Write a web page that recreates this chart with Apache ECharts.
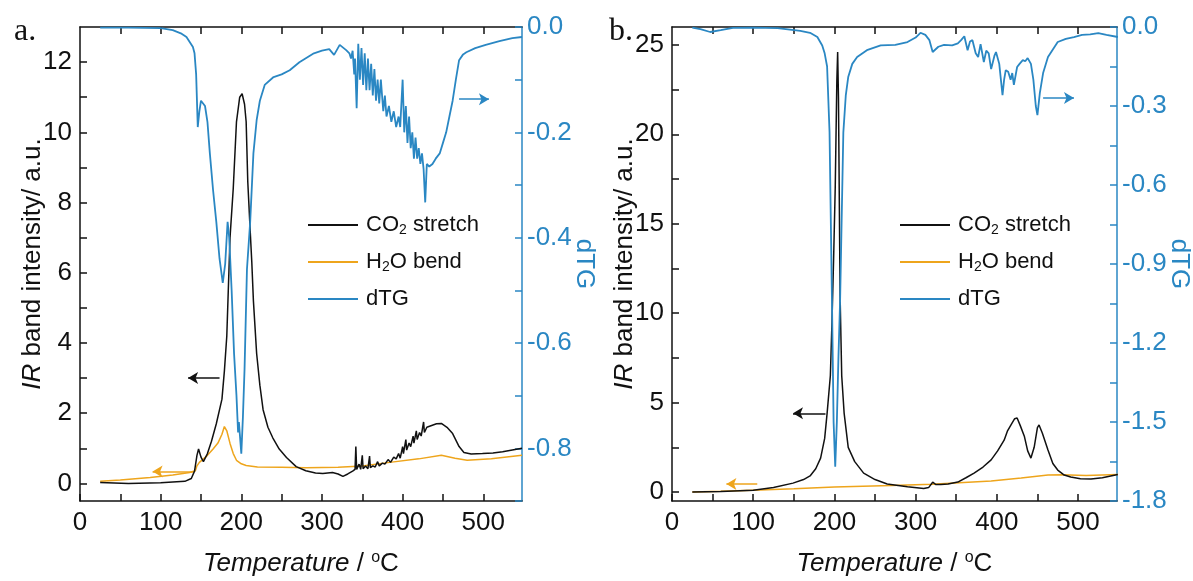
<!DOCTYPE html>
<html>
<head>
<meta charset="utf-8">
<script src="https://cdn.jsdelivr.net/npm/echarts@6.0.0/dist/echarts.min.js"></script>
<style>
  html, body { margin: 0; padding: 0; background: #fff; }
  #chart { width: 1193px; height: 581px; }
</style>
</head>
<body>
<div id="chart"></div>
<script>
// ---- panel a: [temperature, value] ----
const co2A = [[25,0.03],[60,0.0],[100,0.02],[130,0.06],[138,0.14],[142,0.35],[145,0.8],[147,0.98],[150,0.75],[153,0.62],[158,0.85],[163,1.2],[169,1.7],[176,2.4],[179,3.2],[182,4.2],[186,7.0],[190,8.4],[194,10.3],[198,11.0],[201,11.1],[204,10.8],[206,10.3],[208,8.6],[211,7.2],[213,6.3],[215,5.2],[219,3.7],[223,2.8],[227,2.1],[233,1.6],[239,1.3],[247,0.98],[256,0.74],[268,0.48],[280,0.36],[292,0.3],[301,0.28],[313,0.31],[320,0.27],[326,0.2],[332,0.27],[338,0.35],[341,0.4],[342,1.05],[343,0.4],[346,0.55],[348,0.4],[350,0.8],[351,0.42],[354,0.5],[357,0.42],[359,0.78],[360,0.45],[363,0.5],[366,0.47],[369,0.62],[371,0.5],[375,0.58],[378,0.55],[382,0.68],[385,0.6],[389,0.75],[392,0.7],[395,0.85],[397,0.72],[400,1.05],[401,0.85],[404,1.25],[405,0.95],[408,1.15],[410,1.05],[413,1.35],[414,1.15],[417,1.5],[418,1.25],[421,1.45],[423,1.35],[426,1.75],[427,1.45],[430,1.6],[436,1.65],[442,1.7],[448,1.71],[455,1.6],[462,1.42],[470,1.05],[476,0.88],[485,0.84],[499,0.85],[512,0.87],[524,0.9],[536,0.95],[548,1.0]];
const h2oA = [[25,0.06],[50,0.1],[87,0.17],[115,0.24],[136,0.31],[143,0.36],[145,0.5],[148,0.6],[152,0.68],[158,0.8],[165,0.98],[171,1.15],[176,1.4],[179,1.62],[182,1.5],[186,1.14],[190,0.85],[194,0.66],[200,0.56],[206,0.51],[220,0.47],[250,0.46],[280,0.45],[320,0.46],[350,0.5],[384,0.6],[420,0.7],[448,0.8],[465,0.72],[480,0.66],[510,0.7],[548,0.8]];
const dtgA = [[25,-0.001],[60,-0.001],[100,-0.002],[115,-0.006],[125,-0.012],[132,-0.019],[140,-0.038],[142,-0.05],[144,-0.09],[146,-0.19],[148,-0.16],[150,-0.14],[152,-0.137],[155,-0.15],[158,-0.18],[161,-0.24],[165,-0.31],[169,-0.37],[173,-0.44],[177,-0.486],[180,-0.45],[183,-0.37],[185,-0.4],[188,-0.5],[191,-0.62],[194,-0.7],[196,-0.77],[197,-0.75],[200,-0.81],[202,-0.74],[204,-0.65],[207,-0.46],[211,-0.37],[215,-0.24],[219,-0.177],[223,-0.14],[229,-0.11],[240,-0.095],[250,-0.09],[260,-0.082],[272,-0.067],[290,-0.05],[300,-0.045],[309,-0.042],[315,-0.053],[322,-0.034],[330,-0.044],[334,-0.05],[336,-0.06],[338,-0.045],[340,-0.09],[341,-0.06],[343,-0.154],[345,-0.032],[347,-0.1],[349,-0.04],[351,-0.11],[353,-0.05],[355,-0.12],[357,-0.06],[359,-0.12],[361,-0.07],[363,-0.13],[365,-0.08],[367,-0.14],[369,-0.1],[371,-0.145],[373,-0.1],[376,-0.16],[378,-0.13],[380,-0.17],[383,-0.15],[386,-0.18],[389,-0.16],[392,-0.19],[395,-0.17],[397,-0.19],[400,-0.1],[402,-0.2],[404,-0.15],[406,-0.22],[408,-0.17],[410,-0.23],[412,-0.2],[414,-0.25],[416,-0.21],[418,-0.25],[420,-0.23],[422,-0.26],[424,-0.24],[426,-0.27],[428,-0.333],[430,-0.26],[433,-0.265],[437,-0.26],[441,-0.25],[446,-0.24],[450,-0.22],[454,-0.2],[458,-0.17],[462,-0.14],[466,-0.1],[470,-0.063],[475,-0.052],[479,-0.048],[490,-0.04],[503,-0.034],[520,-0.027],[536,-0.021],[548,-0.019]];

// ---- panel b ----
const co2B = [[25,0.0],[60,0.03],[100,0.1],[125,0.25],[149,0.5],[162,0.7],[170,0.9],[177,1.3],[183,1.9],[188,3.0],[191,4.4],[195,6.5],[197,9.5],[199,13],[201,17],[203,23],[204,24.6],[205,22],[207,11],[209,6.5],[212,4.4],[217,2.5],[225,1.7],[236,1.06],[250,0.7],[265,0.45],[290,0.3],[310,0.2],[316,0.25],[321,0.55],[325,0.42],[331,0.42],[340,0.45],[352,0.56],[362,0.8],[372,1.06],[383,1.4],[393,1.8],[401,2.3],[409,2.9],[413,3.4],[418,3.8],[422,4.1],[425,4.14],[429,3.7],[434,3.1],[438,2.3],[442,1.9],[446,2.5],[450,3.6],[452,3.75],[456,3.3],[463,2.35],[469,1.6],[475,1.23],[483,0.95],[491,0.84],[503,0.75],[516,0.73],[530,0.8],[549,0.98]];
const h2oB = [[25,0.0],[60,0.04],[100,0.1],[150,0.18],[200,0.28],[270,0.36],[320,0.44],[393,0.62],[430,0.78],[463,0.95],[480,0.97],[510,0.93],[549,0.98]];
const dtgB = [[25,-0.002],[35,-0.008],[47,-0.019],[60,-0.012],[75,-0.003],[100,-0.002],[130,-0.004],[158,-0.015],[170,-0.022],[179,-0.038],[185,-0.07],[188,-0.1],[191,-0.15],[194,-0.4],[197,-1.04],[199,-1.5],[201,-1.67],[203,-1.5],[205,-1.25],[207,-1.04],[211,-0.4],[214,-0.26],[217,-0.19],[222,-0.14],[228,-0.114],[240,-0.088],[257,-0.07],[275,-0.068],[290,-0.057],[300,-0.04],[306,-0.022],[312,-0.03],[317,-0.05],[321,-0.095],[328,-0.075],[335,-0.068],[345,-0.07],[352,-0.062],[356,-0.05],[360,-0.035],[364,-0.088],[367,-0.055],[370,-0.05],[374,-0.1],[377,-0.114],[380,-0.065],[384,-0.133],[387,-0.09],[390,-0.1],[393,-0.16],[395,-0.164],[397,-0.11],[399,-0.095],[403,-0.14],[407,-0.259],[409,-0.2],[411,-0.164],[414,-0.17],[417,-0.2],[419,-0.175],[421,-0.22],[425,-0.152],[428,-0.14],[432,-0.126],[435,-0.13],[438,-0.118],[442,-0.14],[445,-0.2],[448,-0.3],[450,-0.335],[453,-0.25],[457,-0.175],[463,-0.114],[468,-0.09],[475,-0.057],[485,-0.045],[495,-0.038],[505,-0.03],[515,-0.028],[525,-0.023],[535,-0.03],[549,-0.038]];

// arrows pointing to each curve's axis, in data units [from, to]
const arrowsA = { co2: [[173, 3.0], [134, 3.0]], h2o: [[140, 0.34], [90, 0.34]], dtg: [[470, -0.137], [507, -0.137]] };
const arrowsB = { co2: [[189, 4.4], [149, 4.4]], h2o: [[105, 0.45], [67, 0.45]], dtg: [[457, -0.27], [495, -0.27]] };

// ticks and labels
const tempLabels = [0, 100, 200, 300, 400, 500];
const tempTicks = [0, 50, 100, 150, 200, 250, 300, 350, 400, 450, 500];
const irLabelsA = [0, 2, 4, 6, 8, 10, 12];
const irTicksA = [0, 1, 2, 3, 4, 5, 6, 7, 8, 9, 10, 11, 12];
const dtgLabelsA = [0, -0.2, -0.4, -0.6, -0.8];
const dtgTicksA = [0, -0.1, -0.2, -0.3, -0.4, -0.5, -0.6, -0.7, -0.8, -0.9];
const irLabelsB = [0, 5, 10, 15, 20, 25];
const irTicksB = [0, 2.5, 5, 7.5, 10, 12.5, 15, 17.5, 20, 22.5, 25];
const dtgLabelsB = [0, -0.3, -0.6, -0.9, -1.2, -1.5, -1.8];
const dtgTicksB = [0, -0.15, -0.3, -0.45, -0.6, -0.75, -0.9, -1.05, -1.2, -1.35, -1.5, -1.65, -1.8];

const FONT = 'Liberation Sans, Arial, sans-serif';
const BLACK = '#111111';
const BLUE = '#2a87c3';
const ORANGE = '#eea51c';

const chart = echarts.init(document.getElementById('chart'));

function xAxisOf(grid, top) {
  return {
    type: 'value', gridIndex: grid, min: 0, max: 548,
    position: top ? 'top' : 'bottom',
    name: top ? '' : '{i|Temperature} / {sup|o}C',
    nameLocation: 'middle', nameGap: 49, nameMoveOverlap: false,
    nameTextStyle: {
      fontFamily: FONT, fontSize: 26, color: BLACK,
      rich: {
        i: { fontFamily: FONT, fontSize: 26, fontStyle: 'italic', color: BLACK },
        sup: { fontFamily: FONT, fontSize: 16, color: BLACK, padding: [0, 0, 12, 0] }
      }
    },
    axisLine: { show: true, onZero: false, lineStyle: { color: BLACK, width: 1.5 } },
    axisTick: { show: true, inside: true, length: 7, customValues: top ? tempTicks.slice(1) : tempTicks, lineStyle: { color: BLACK, width: 1.5 } },
    axisLabel: { show: !top, margin: 9, fontFamily: FONT, fontSize: 26, color: BLACK, customValues: tempLabels },
    splitLine: { show: false }
  };
}

function irAxisOf(grid, max, labels, ticks) {
  return {
    type: 'value', gridIndex: grid, min: -0.5, max: max, position: 'left',
    name: '{i|IR} band intensity/ a.u.',
    nameLocation: 'middle', nameGap: 34, nameRotate: 90, nameMoveOverlap: false,
    nameTextStyle: {
      fontFamily: FONT, fontSize: 26, color: BLACK,
      rich: { i: { fontFamily: FONT, fontSize: 26, fontStyle: 'italic', color: BLACK } }
    },
    axisLine: { show: true, onZero: false, lineStyle: { color: BLACK, width: 1.5 } },
    axisTick: { show: true, inside: true, length: 7, customValues: ticks, lineStyle: { color: BLACK, width: 1.5 } },
    axisLabel: { margin: 8, fontFamily: FONT, fontSize: 26, color: BLACK, customValues: labels },
    splitLine: { show: false }
  };
}

function dtgAxisOf(grid, min, labels, ticks) {
  return {
    type: 'value', gridIndex: grid, min: min, max: 0, position: 'right',
    name: 'dTG', nameLocation: 'middle', nameGap: 49, nameRotate: -90, nameMoveOverlap: false,
    nameTextStyle: { fontFamily: FONT, fontSize: 26, color: BLUE },
    axisLine: { show: true, onZero: false, lineStyle: { color: BLUE, width: 1.5 } },
    axisTick: { show: true, inside: true, length: 7, customValues: ticks, lineStyle: { color: BLUE, width: 1.5 } },
    axisLabel: { margin: 5, fontFamily: FONT, fontSize: 26, color: BLUE, customValues: labels, formatter: v => v.toFixed(1) },
    splitLine: { show: false }
  };
}

function arrow(pts, color) {
  return {
    silent: true, symbol: ['none', 'arrow'], symbolSize: [9, 10],
    label: { show: false },
    lineStyle: { color: color, width: 1.5, type: 'solid' },
    data: [[{ coord: pts[0] }, { coord: pts[1] }]]
  };
}

function line(name, data, color, xi, yi, width, mark) {
  return {
    name: name, type: 'line', data: data, xAxisIndex: xi, yAxisIndex: yi,
    symbol: 'none', showSymbol: false,
    lineStyle: { color: color, width: width }, itemStyle: { color: color },
    markLine: mark
  };
}

function legendAt(left) {
  return {
    left: left, top: 209, orient: 'vertical',
    icon: 'rect', itemWidth: 50, itemHeight: 2, itemGap: 14,
    data: ['CO2 stretch', 'H2O bend', 'dTG'],
    formatter: n => n.replace('2', '{s|2}'),
    textStyle: {
      fontFamily: FONT, fontSize: 22, color: BLACK, padding: [0, 0, 0, 3],
      rich: { s: { fontFamily: FONT, fontSize: 14, color: BLACK, padding: [10, 0, 0, 0] } }
    }
  };
}

chart.setOption({
  animation: false,
  backgroundColor: '#ffffff',
  title: [
    { text: 'a.', left: 9, top: 11, textStyle: { fontFamily: 'Liberation Serif, Times New Roman, serif', fontSize: 32, fontWeight: 'normal', color: BLACK } },
    { text: 'b.', left: 604, top: 11, textStyle: { fontFamily: 'Liberation Serif, Times New Roman, serif', fontSize: 32, fontWeight: 'normal', color: BLACK } }
  ],
  legend: [legendAt(303), legendAt(895)],
  grid: [
    { left: 80, top: 27, right: 671, bottom: 80, outerBoundsMode: 'none' },
    { left: 672, top: 27, right: 76, bottom: 80, outerBoundsMode: 'none' }
  ],
  xAxis: [xAxisOf(0, false), xAxisOf(0, true), xAxisOf(1, false), xAxisOf(1, true)],
  yAxis: [
    irAxisOf(0, 13, irLabelsA, irTicksA),
    dtgAxisOf(0, -0.9, dtgLabelsA, dtgTicksA),
    irAxisOf(1, 26, irLabelsB, irTicksB),
    dtgAxisOf(1, -1.8, dtgLabelsB, dtgTicksB)
  ],
  series: [
    line('H2O bend', h2oA, ORANGE, 0, 0, 1.5, arrow(arrowsA.h2o, ORANGE)),
    line('CO2 stretch', co2A, BLACK, 0, 0, 1.5, arrow(arrowsA.co2, BLACK)),
    line('dTG', dtgA, BLUE, 0, 1, 1.8, arrow(arrowsA.dtg, BLUE)),
    line('H2O bend', h2oB, ORANGE, 2, 2, 1.5, arrow(arrowsB.h2o, ORANGE)),
    line('CO2 stretch', co2B, BLACK, 2, 2, 1.5, arrow(arrowsB.co2, BLACK)),
    line('dTG', dtgB, BLUE, 2, 3, 1.8, arrow(arrowsB.dtg, BLUE))
  ]
});
</script>
</body>
</html>
